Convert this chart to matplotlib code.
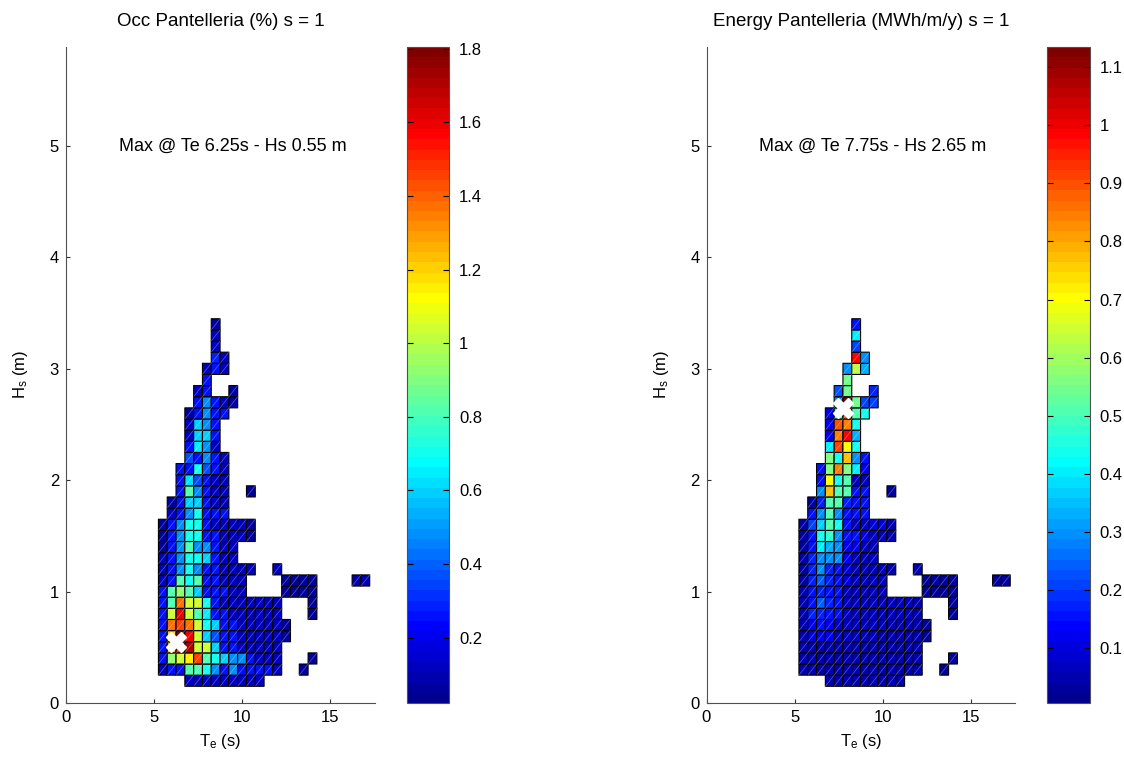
import numpy as np
import matplotlib
matplotlib.use('Agg')
import matplotlib.pyplot as plt
from matplotlib.colors import ListedColormap, Normalize
from matplotlib.collections import LineCollection

plt.rcParams['font.family'] = ['Liberation Sans', 'DejaVu Sans']
plt.rcParams['mathtext.default'] = 'regular'

nan = np.nan
# grid: Te cells start 5.25 s, width 0.5 s ; Hs cells start 0.15 m, height 0.1 m
te_start, te_step, n_te = 5.25, 0.5, 24
hs_start, hs_step, n_hs = 0.15, 0.1, 33

# Occurrence (%) : row index -> (first Te column, values)
occ_rows = {
    32: (6, [.05]),
    31: (6, [.12]),
    30: (6, [.12]),
    29: (6, [.30, .12]),
    28: (5, [.12, .25, .12]),
    27: (5, [.25]),
    26: (4, [.12, .25, nan, nan, .05]),
    25: (4, [.25, .47, .25, .12, .05]),
    24: (3, [.05, .25, .47, .25, .25]),
    23: (3, [.12, .58, .47, .25]),
    22: (3, [.12, .58, .58, .25]),
    21: (3, [.25, .64, .47, .12]),
    20: (3, [.36, .25, .47, .25, .12]),
    19: (2, [.25, .25, .70, .36, .25, .12]),
    18: (2, [.25, .62, .36, .25, .12, .12]),
    17: (2, [.25, .81, .47, .25, .12, .12, nan, nan, .05]),
    16: (1, [.05, .25, .58, .58, .25, .12, .12]),
    15: (1, [.12, .25, .47, .70, .25, .25, .25]),
    14: (0, [.05, .25, .47, .70, .70, .25, .12, .12, .12, .12, .05]),
    13: (0, [.05, .25, .47, .70, .70, .25, .25, .12, .12, .12, .05]),
    12: (0, [.05, .25, .47, .81, .47, .47, .25, .12, .12]),
    11: (0, [.12, .25, .47, .70, .70, .58, .25, .12, .12]),
    10: (0, [.12, .25, .47, .70, .47, .25, .25, .12, .12, .12, .12, nan, nan, .12]),
    9:  (0, [.12, .25, .81, .70, .81, .25, .25, .12, .12, .12, nan, nan, nan, nan, .05, .05, .05, .05,
             nan, nan, nan, nan, .08, .08]),
    8:  (0, [.25, .81, .92, .81, .58, .25, .25, .25, .12, .12, nan, nan, nan, nan, .05, .05, .05, .05]),
    7:  (0, [.25, .81, 1.36, 1.03, 1.03, .70, .25, .12, .12, .12, .12, .12, .12, .12, nan, nan, nan, .05]),
    6:  (0, [.25, 1.03, 1.59, 1.03, .81, .64, .25, .25, .12, .12, .12, .12, .12, .12, nan, nan, nan, .05]),
    5:  (0, [.25, 1.36, 1.47, 1.36, 1.03, .70, .58, .25, .25, .12, .12, .12, .12, .12, .05]),
    4:  (0, [.25, 1.20, 1.80, 1.59, 1.03, .58, .36, .25, .25, .12, .12, .12, .12, .12, .05]),
    3:  (0, [.25, 1.30, 1.50, 1.70, 1.03, 1.03, .58, .25, .25, .12, .12, .12, .12, .12]),
    2:  (0, [.25, .92, 1.03, 1.14, 1.47, .81, .70, .58, .47, .47, .25, .12, .12, .12, nan, nan, nan, .05]),
    1:  (0, [.12, .25, .25, .81, .81, .70, .47, .25, .47, .25, .25, .25, .25, .12, nan, nan, .05]),
    0:  (3, [.12, .12, .12, .12, .12, .12, .12, .12, .12]),
}

# Energy (MWh/m/y)
energy_rows = {
    32: (6, [.15]),
    31: (6, [.40]),
    30: (6, [.20]),
    29: (6, [.99, .29]),
    28: (5, [.29, .64, .33]),
    27: (5, [.55]),
    26: (4, [.22, .55, nan, nan, .18]),
    25: (4, [.30, 1.13, .55, .20, .20]),
    24: (3, [.10, .43, .90, .50, .43]),
    23: (3, [.12, .90, .85, .43]),
    22: (3, [.12, .85, .99, .33]),
    21: (3, [.40, .92, .71, .43]),
    20: (3, [.57, .43, .78, .29, .15]),
    19: (2, [.15, .57, .85, .57, .40, .12]),
    18: (2, [.15, .71, .43, .50, .07, .07]),
    17: (2, [.29, .78, .50, .50, .15, .15, nan, nan, .03]),
    16: (1, [.03, .18, .50, .50, .18, .15, .15]),
    15: (1, [.15, .29, .50, .29, .15, .15, .15]),
    14: (0, [.03, .20, .36, .50, .43, .15, .07, .07, .10, .10, .05]),
    13: (0, [.03, .15, .43, .47, .29, .15, .15, .12, .07, .07, .05]),
    12: (0, [.03, .15, .40, .33, .29, .12, .12, .07, .07]),
    11: (0, [.03, .18, .29, .29, .29, .12, .07, .07, .07]),
    10: (0, [.03, .18, .29, .18, .15, .10, .07, .07, .07, .07, .05, nan, nan, .05]),
    9:  (0, [.03, .18, .25, .18, .15, .10, .07, .07, .07, .07, nan, nan, nan, nan, .03, .03, .03, .03,
             nan, nan, nan, nan, .04, .04]),
    8:  (0, [.05, .15, .18, .15, .15, .07, .07, .07, .07, .07, nan, nan, nan, nan, .03, .03, .03, .03]),
    7:  (0, [.05, .15, .25, .18, .15, .07, .07, .07, .07, .07, .07, .07, .07, .05, nan, nan, nan, .03]),
    6:  (0, [.05, .18, .18, .15, .15, .07, .07, .07, .07, .07, .07, .07, .07, .05, nan, nan, nan, .03]),
    5:  (0, [.05, .12, .15, .12, .07, .07, .07, .07, .07, .07, .05, .05, .05, .05, .03]),
    4:  (0, [.05, .10, .12, .12, .07, .07, .07, .07, .07, .05, .05, .05, .05, .05, .03]),
    3:  (0, [.05, .05, .05, .05, .05, .05, .05, .05, .05, .05, .05, .05, .05, .05]),
    2:  (0, [.05, .05, .05, .05, .05, .05, .05, .05, .05, .05, .05, .05, .05, .05, nan, nan, nan, .03]),
    1:  (0, [.05, .05, .05, .05, .05, .05, .05, .05, .05, .05, .05, .05, .05, .05, nan, nan, .03]),
    0:  (3, [.05, .05, .05, .05, .05, .05, .05, .05, .05]),
}

occ_clim = (0.022, 1.805)
energy_clim = (0.005, 1.135)
occ_ticks = [0.2, 0.4, 0.6, 0.8, 1.0, 1.2, 1.4, 1.6, 1.8]
energy_ticks = [0.1, 0.2, 0.3, 0.4, 0.5, 0.6, 0.7, 0.8, 0.9, 1.0, 1.1]
occ_max = (6.25, 0.55)
energy_max = (7.75, 2.65)
titles = ['Occ Pantelleria (%) s = 1', 'Energy Pantelleria (MWh/m/y) s = 1']


def matlab_jet(m=64):
    n = int(np.ceil(m / 4))
    u = np.r_[np.arange(1, n + 1) / n, np.ones(n - 1), np.arange(n, 0, -1) / n]
    g = int(np.ceil(n / 2)) - (m % 4 == 1) + np.arange(1, len(u) + 1)
    r = g + n
    b = g - n
    J = np.zeros((m, 3))
    J[r[r <= m] - 1, 0] = u[r <= m]
    J[g[g <= m] - 1, 1] = u[g <= m]
    J[b[b >= 1] - 1, 2] = u[len(u) - np.sum(b >= 1):]
    return ListedColormap(J)


cmap = matlab_jet(64)


def build(rows):
    grid = np.full((n_hs, n_te), nan)
    for r, (c0, vals) in rows.items():
        grid[r, c0:c0 + len(vals)] = vals
    return grid


te_edges = te_start + te_step * np.arange(n_te + 1)
hs_edges = hs_start + hs_step * np.arange(n_hs + 1)

fig = plt.figure(figsize=(11.24, 7.6), dpi=100)
W, H = 1124.0, 760.0
axes_px = [(66, 47, 309, 656), (706.5, 47, 309, 656)]
cbar_px = [(406.7, 47, 42.6, 656), (1047.2, 47, 42.6, 656)]

datasets = [(build(occ_rows), occ_clim, occ_ticks, occ_max),
            (build(energy_rows), energy_clim, energy_ticks, energy_max)]

for i, (grid, clim, cticks, mx) in enumerate(datasets):
    x, y, w, h = axes_px[i]
    ax = fig.add_axes([x / W, 1 - (y + h) / H, w / W, h / H])
    norm = Normalize(vmin=clim[0], vmax=clim[1])
    mesh = ax.pcolor(te_edges, hs_edges, np.ma.masked_invalid(grid), cmap=cmap, norm=norm,
                     edgecolors='black', linewidth=0.8)
    # faint diagonal in each filled cell
    rr, cc = np.nonzero(~np.isnan(grid))
    segs = [[(te_edges[c], hs_edges[r]), (te_edges[c + 1], hs_edges[r + 1])] for r, c in zip(rr, cc)]
    ax.add_collection(LineCollection(segs, colors=[(1, 1, 1, 0.35)], linewidths=0.5))
    ax.plot([mx[0]], [mx[1]], marker='X', color='white', markersize=14, markeredgecolor='white', linestyle='none')
    label = 'Max @ Te %gs - Hs %g m' % mx
    ax.text(3, 5, label, va='center', ha='left', fontsize=13)
    ax.set_xlim(0, 17.55)
    ax.set_ylim(0, 5.89)
    ax.set_xticks([0, 5, 10, 15])
    ax.set_yticks([0, 1, 2, 3, 4, 5])
    ax.tick_params(direction='in', length=3, labelsize=12, width=0.8, color='#303030', pad=5)
    for s in ['top', 'right']:
        ax.spines[s].set_visible(False)
    for s in ['left', 'bottom']:
        ax.spines[s].set_color('#505050')
        ax.spines[s].set_linewidth(0.8)
    ax.set_xlabel('T$_e$ (s)', fontsize=12, labelpad=5)
    ax.set_ylabel('H$_s$ (m)', fontsize=12, labelpad=14)
    ax.set_title(titles[i], fontsize=13.5, pad=15)

    cx, cy, cw, ch = cbar_px[i]
    cax = fig.add_axes([cx / W, 1 - (cy + ch) / H, cw / W, ch / H])
    cb = fig.colorbar(mesh, cax=cax)
    cb.set_ticks(cticks)
    cb.set_ticklabels(['%g' % t for t in cticks])
    cax.tick_params(direction='in', left=True, right=True, length=4, labelsize=12, width=0.8, pad=7)
    cb.outline.set_edgecolor('#505050')
    cb.outline.set_linewidth(0.8)

fig.savefig('out.png', dpi=100)
